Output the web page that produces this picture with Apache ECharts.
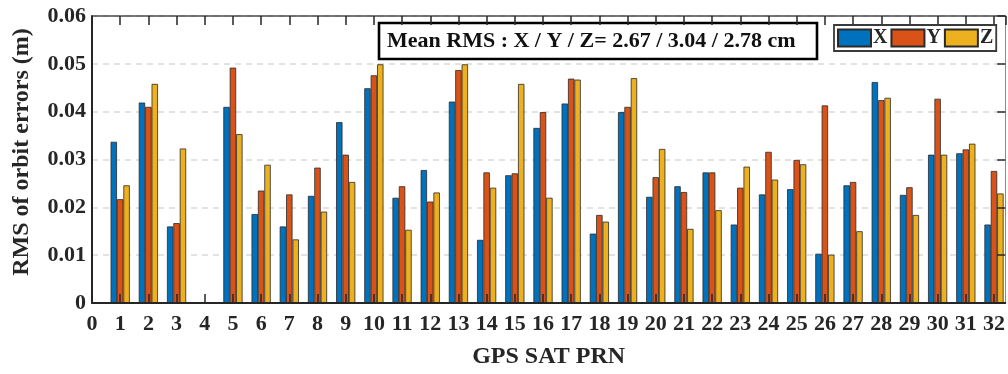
<!DOCTYPE html>
<html>
<head>
<meta charset="utf-8">
<script src="https://cdn.jsdelivr.net/npm/echarts@6/dist/echarts.min.js"></script>
<style>
  html, body { margin: 0; padding: 0; background: #fff; }
  #chart { width: 1008px; height: 374px; }
</style>
</head>
<body>
<div id="chart"></div>
<script>
// GPS satellite PRN numbers (PRN 4 has no solution)
const prn = [1, 2, 3, 4, 5, 6, 7, 8, 9, 10, 11, 12, 13, 14, 15, 16,
             17, 18, 19, 20, 21, 22, 23, 24, 25, 26, 27, 28, 29, 30, 31, 32];

// RMS of orbit errors per component (m)
const rmsX = [0.0337, 0.0419, 0.0160, null, 0.0410, 0.0186, 0.0160, 0.0224,
              0.0378, 0.0449, 0.0220, 0.0278, 0.0421, 0.0132, 0.0267, 0.0366,
              0.0417, 0.0145, 0.0399, 0.0222, 0.0244, 0.0273, 0.0164, 0.0227,
              0.0238, 0.0103, 0.0246, 0.0462, 0.0226, 0.0310, 0.0313, 0.0164];
const rmsY = [0.0217, 0.0410, 0.0167, null, 0.0492, 0.0235, 0.0227, 0.0283,
              0.0310, 0.0476, 0.0244, 0.0212, 0.0487, 0.0273, 0.0271, 0.0399,
              0.0469, 0.0184, 0.0410, 0.0263, 0.0232, 0.0273, 0.0241, 0.0316,
              0.0299, 0.0413, 0.0253, 0.0424, 0.0242, 0.0427, 0.0321, 0.0276];
const rmsZ = [0.0246, 0.0458, 0.0323, null, 0.0353, 0.0289, 0.0133, 0.0191,
              0.0253, 0.0499, 0.0153, 0.0231, 0.0499, 0.0241, 0.0458, 0.0220,
              0.0467, 0.0170, 0.0470, 0.0322, 0.0155, 0.0194, 0.0285, 0.0258,
              0.0290, 0.0101, 0.0150, 0.0429, 0.0184, 0.0310, 0.0333, 0.0229];

const seriesNames = ['X', 'Y', 'Z'];
const seriesColors = ['#0072BD', '#D95319', '#EDB120'];
const meanText = 'Mean RMS : X / Y / Z= 2.67 / 3.04 / 2.78 cm';
const xTitle = 'GPS SAT PRN';
const yTitle = 'RMS of orbit errors (m)';

const FONT = '"Liberation Serif", "Times New Roman", serif';
const INK = '#262626';

const chart = echarts.init(document.getElementById('chart'), null, { renderer: 'canvas' });

function pairs(values) {
  return prn.map((p, i) => [p, values[i] == null ? '-' : values[i]]);
}

const allValues = [rmsX, rmsY, rmsZ];

const option = {
  animation: false,
  backgroundColor: '#fff',
  grid: { left: 92, right: 2.5, top: 16, bottom: 70, containLabel: false },
  legend: {
    data: seriesNames,
    left: 834,
    top: 25,
    orient: 'horizontal',
    itemWidth: 33,
    itemHeight: 17,
    itemGap: 3,
    padding: [3, 3, 3, 3],
    backgroundColor: '#fff',
    borderColor: '#3a3a3a',
    borderWidth: 1.8,
    borderRadius: 0,
    icon: 'rect',
    textStyle: { fontFamily: FONT, fontWeight: 'bold', fontSize: 20, color: INK, padding: [0, 0, 0, -3] }
  },
  xAxis: [
    {
      type: 'value', min: 0, max: 32.4, interval: 1, position: 'bottom', z: 3,
      name: xTitle, nameLocation: 'middle', nameGap: 42,
      nameTextStyle: { fontFamily: FONT, fontWeight: 'bold', fontSize: 24, color: INK },
      axisLine: { show: true, lineStyle: { color: INK, width: 2 } },
      axisTick: { show: true, inside: true, length: 9, lineStyle: { color: INK, width: 1.5 } },
      axisLabel: { fontFamily: FONT, fontWeight: 'bold', fontSize: 22, color: INK, margin: 10, showMaxLabel: false },
      splitLine: { show: false }
    },
    {
      type: 'value', min: 0, max: 32.4, interval: 1, position: 'top', z: 3,
      axisLine: { show: true, onZero: false, lineStyle: { color: '#4a4a4a', width: 1.5 } },
      axisTick: { show: true, inside: true, length: 9, lineStyle: { color: INK, width: 1.5 } },
      axisLabel: { show: false },
      splitLine: { show: false }
    }
  ],
  yAxis: [
    {
      type: 'value', min: 0, max: 0.06, interval: 0.01, position: 'left', z: 1,
      axisLine: { show: true, onZero: false, lineStyle: { color: INK, width: 2 } },
      axisTick: { show: false },
      axisLabel: {
        fontFamily: FONT, fontWeight: 'bold', fontSize: 22, color: INK, margin: 6,
        formatter: v => (v === 0 ? '0' : v.toFixed(2))
      },
      splitLine: { show: true, lineStyle: { color: '#d9d9d9', width: 1.6, type: [6, 5] } }
    },
    {
      type: 'value', min: 0, max: 0.06, interval: 0.01, position: 'right', z: 3,
      axisLine: { show: true, onZero: false, lineStyle: { color: '#8a8a8a', width: 1 } },
      axisTick: { show: true, inside: true, length: 8, lineStyle: { color: INK, width: 1.5 } },
      axisLabel: { show: false },
      splitLine: { show: false }
    }
  ],
  graphic: [
    {
      type: 'text', rotation: Math.PI / 2,
      x: 22, y: 152,
      style: {
        text: yTitle, fontFamily: FONT, fontWeight: 'bold', fontSize: 24, fill: INK,
        textAlign: 'center', textVerticalAlign: 'middle'
      },
      z: 10
    },
    {
      type: 'group', x: 379, y: 23, z: 10,
      children: [
        { type: 'rect', shape: { x: 0, y: 0, width: 438, height: 36 },
          style: { fill: '#fff', stroke: '#000', lineWidth: 2.6 } },
        { type: 'text', x: 8, y: 18.5,
          style: { text: meanText, fontFamily: FONT, fontWeight: 'bold', fontSize: 22, fill: '#111',
                   textAlign: 'left', textVerticalAlign: 'middle' } }
      ]
    }
  ],
  series: seriesNames.map((name, k) => ({
    name,
    type: 'bar',
    xAxisIndex: 0,
    yAxisIndex: 0,
    barWidth: 6.4,
    barGap: '0%',
    clip: true,
    z: 2,
    itemStyle: { color: seriesColors[k], borderColor: '#2a2a2a', borderWidth: 0.8 },
    data: pairs(allValues[k])
  }))
};

chart.setOption(option);
</script>
</body>
</html>
